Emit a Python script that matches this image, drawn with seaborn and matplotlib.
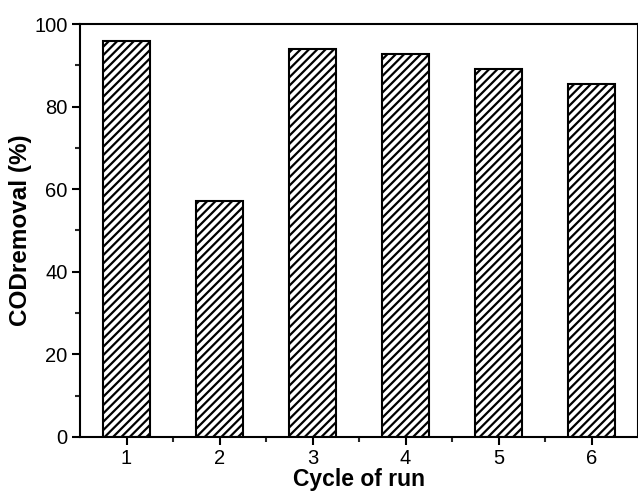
import matplotlib
matplotlib.use("Agg")
import matplotlib.pyplot as plt
import seaborn as sns
import pandas as pd
from matplotlib.ticker import MultipleLocator, FixedLocator

sns.set_theme(style="ticks")
plt.rcParams['font.family'] = ['Liberation Sans', 'DejaVu Sans']
plt.rcParams['hatch.linewidth'] = 1.6
plt.rcParams['text.color'] = 'black'
plt.rcParams['axes.labelcolor'] = 'black'

# data
cycles = [1, 2, 3, 4, 5, 6]
cod_removal = [95.9, 57.1, 93.9, 92.8, 89.1, 85.5]

df = pd.DataFrame({"cycle": cycles, "cod": cod_removal})

fig = plt.figure(figsize=(6.38, 4.96), dpi=100)
ax = fig.add_axes([0.1254, 0.119, 0.8746, 0.8326])

sns.barplot(data=df, x="cycle", y="cod", native_scale=True, width=0.5,
            color="white", edgecolor="black", linewidth=1.5, hatch="////",
            ax=ax)

ax.set_xlim(0.5, 6.5)
ax.set_ylim(0, 100)
ax.set_xticks(cycles)
ax.xaxis.set_minor_locator(FixedLocator([1.5, 2.5, 3.5, 4.5, 5.5]))
ax.yaxis.set_major_locator(MultipleLocator(20))
ax.yaxis.set_minor_locator(MultipleLocator(10))

for s in ax.spines.values():
    s.set_linewidth(1.5)
    s.set_color("black")
ax.tick_params(which="major", direction="out", length=6, width=1.5,
               labelsize=14.5, colors="black", labelcolor="black", pad=3)
ax.tick_params(which="minor", direction="out", length=3.5, width=1.5)

ax.set_xlabel("Cycle of run", fontsize=16.5, fontweight="bold", labelpad=0)
ax.set_ylabel("CODremoval (%)", fontsize=17.5, fontweight="bold")
ax.yaxis.set_label_coords(-0.086, 0.5)

fig.savefig("out.png", dpi=100)
